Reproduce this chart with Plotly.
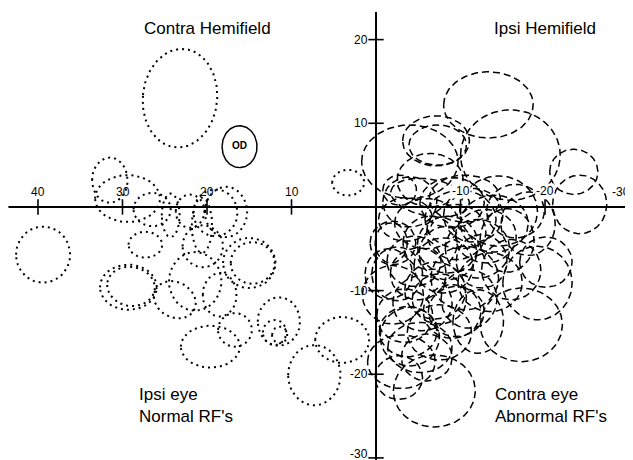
import numpy as np
import plotly.graph_objects as go

# ---- data (degrees of visual field) ----
# Ipsi eye, normal RFs (dotted): centre x, centre y, half-width, half-height, tilt (deg)
ipsi_cx = [23.2, 3.3, 31.5, 29.4, 27.3, 29.3, 29.0, 23.8, 19.6, 21.4, 20.5, 17.75, 19.0,
           15.0, 14.6, 24.3, 18.5, 16.7, 11.5, 12.0, 11.4, 4.0, 7.3, 39.4, 26.5, 22.0, 20.6]
ipsi_cy = [13.0, 2.9, 3.2, 1.0, -4.5, -9.6, -9.5, -11.1, -16.7, -8.9, -4.7, -0.6, -0.7,
           -6.7, -6.7, -1.0, -10.5, -14.7, -13.7, -15.0, -15.3, -15.9, -20.1, -5.7, -0.3, -0.5, -2.2]
ipsi_rx = [4.4, 1.9, 2.1, 3.85, 2.0, 3.37, 2.84, 2.6, 3.5, 3.1, 2.4, 2.5, 2.6,
           3.1, 2.6, 1.06, 2.0, 2.0, 2.5, 1.4, 0.9, 3.2, 3.1, 3.2, 2.2, 1.7, 1.2]
ipsi_ry = [5.9, 1.55, 2.7, 2.8, 1.55, 2.7, 2.33, 2.1, 2.5, 3.5, 2.5, 3.0, 2.8,
           3.0, 2.5, 2.6, 2.6, 2.0, 2.9, 1.5, 1.0, 2.75, 3.6, 3.35, 2.0, 2.0, 3.3]
ipsi_tilt = [5, 0, 0, 0, 0, 0, 10, 30, 0, 0, 0, 0, 0,
             0, 0, 0, 0, 0, 0, 0, 0, 0, 0, 0, 0, 0, 0]

# Contra eye, abnormal RFs (dashed)
contra_cx = [-13.3, -15.9, -23.4, -24.1, -7.1, -7.3, -4.0, -6.4, -2.8, -14.5, -11.5, -9.0,
             -4.0, -1.8, -2.0, -6.4, -6.4, -9.5, -12.0, -8.0, -10.5, -5.0, -13.5, -15.5,
             -18.0, -20.1, -19.1, -17.2, -2.7, -6.9, -3.8, -5.2, -12.1, -9.5, -3.4, -2.0,
             -3.0, -7.5, -10.0, -14.0, -1.5, -12.5, -8.5, -16.5, -6.0,
             -4.5, -7.0, -9.0, -5.5, -2.5, -11.0, -13.0, -8.5, -6.0, -16.0, -10.5, -3.5,
             -4.0, -7.5]
contra_cy = [12.2, 6.2, 4.2, 0.3, 7.9, 7.4, 5.4, 3.2, 2.0, -0.5, -1.0, 0.5,
             0.6, -4.3, -4.3, -4.3, 1.1, -3.0, -5.0, -7.0, -8.5, -8.0, -9.0, -4.0,
             -2.0, -6.6, -9.1, -14.1, -20.4, -22.0, -14.9, -16.8, -13.7, -12.5, -13.0, -10.5,
             -18.5, -11.0, -1.5, -2.0, -8.0, -6.5, -4.5, -0.5, -18.0,
             -6.5, -10.0, -12.5, -11.5, -8.0, -11.0, -3.5, -5.5, -2.0, -7.5, 1.0, -1.5,
             -15.5, -15.0]
contra_rx = [5.3, 5.9, 2.85, 3.2, 3.95, 3.4, 5.7, 3.9, 2.0, 4.6, 3.5, 3.8,
             3.2, 1.9, 2.7, 3.2, 4.7, 3.5, 3.8, 3.5, 4.0, 3.3, 3.8, 3.2,
             3.2, 3.1, 4.1, 4.85, 2.8, 4.85, 3.4, 3.8, 3.0, 3.3, 3.3, 3.6,
             4.0, 3.2, 4.2, 4.0, 2.8, 3.0, 3.6, 3.4, 3.0,
             3.2, 3.6, 3.4, 3.5, 3.0, 3.3, 3.6, 3.4, 3.8, 3.5, 4.2, 3.2,
             3.5, 3.8]
contra_ry = [3.95, 5.4, 2.7, 3.5, 3.0, 2.4, 4.4, 3.2, 1.8, 4.2, 3.2, 3.0,
             3.0, 2.4, 2.6, 3.2, 2.2, 3.3, 3.5, 3.3, 3.8, 3.1, 3.5, 3.8,
             3.8, 3.0, 4.4, 4.4, 2.6, 4.3, 3.0, 3.0, 3.8, 3.0, 3.2, 3.5,
             3.2, 3.0, 3.5, 3.4, 3.0, 3.2, 3.4, 3.2, 2.8,
             3.0, 3.4, 3.2, 3.3, 3.2, 3.5, 3.2, 3.2, 3.0, 3.6, 2.8, 2.6,
             3.5, 3.3]
contra_tilt = [0, 0, 0, 0, 0, 0, 0, 0, 0, 0, 0, 0,
               0, 0, 0, 0, 10, 0, 0, 0, 0, 0, 0, 0,
               0, 0, 0, 0, 0, 0, 0, 0, 0, 0, 0, 0,
               0, 0, 0, 0, 0, 0, 0, 0, 0,
               0, 0, 0, 0, 0, 0, 0, 0, 0, 0, 0, 0,
               0, 0]

# optic disc
od_cx, od_cy, od_rx, od_ry = 16.15, 7.2, 2.07, 2.5

x_ticks = [40, 30, 20, 10, -10, -20, -30]
x_tick_labels = ["40", "30", "20", "10", "-10", "-20", "-30"]
y_ticks = [20, 10, -10, -20, -30]
y_tick_labels = ["20", "10", "-10", "-20", "-30"]


def ellipse_path(cxs, cys, rxs, rys, tilts):
    xs, ys = [], []
    t = np.linspace(0, 2 * np.pi, 120)
    for cx, cy, rx, ry, a in zip(cxs, cys, rxs, rys, tilts):
        th = np.deg2rad(a)
        ex = cx + rx * np.cos(t) * np.cos(th) - ry * np.sin(t) * np.sin(th)
        ey = cy + rx * np.cos(t) * np.sin(th) + ry * np.sin(t) * np.cos(th)
        xs += list(ex) + [None]
        ys += list(ey) + [None]
    return xs, ys


fig = go.Figure()

lx, ly = ellipse_path(ipsi_cx, ipsi_cy, ipsi_rx, ipsi_ry, ipsi_tilt)
fig.add_trace(go.Scatter(x=lx, y=ly, mode="lines",
                         line=dict(color="black", width=2, dash="2px,4px"),
                         hoverinfo="skip"))

rx_, ry_ = ellipse_path(contra_cx, contra_cy, contra_rx, contra_ry, contra_tilt)
fig.add_trace(go.Scatter(x=rx_, y=ry_, mode="lines",
                         line=dict(color="black", width=1.5, dash="7px,4px"),
                         hoverinfo="skip"))

ox, oy = ellipse_path([od_cx], [od_cy], [od_rx], [od_ry], [0])
fig.add_trace(go.Scatter(x=ox, y=oy, mode="lines",
                         line=dict(color="black", width=1.5), hoverinfo="skip"))
fig.add_trace(go.Scatter(x=[od_cx], y=[od_cy], mode="text", text=["<b>OD</b>"],
                         textfont=dict(family="Liberation Sans", size=10, color="black")))

# axes lines crossing at origin
fig.add_trace(go.Scatter(x=[43.5, -30.3], y=[0, 0], mode="lines",
                         line=dict(color="black", width=2), hoverinfo="skip"))
fig.add_trace(go.Scatter(x=[0, 0], y=[23.3, -31.0], mode="lines",
                         line=dict(color="black", width=2), hoverinfo="skip"))

# tick marks
fig.add_trace(go.Scatter(x=x_ticks, y=[0] * len(x_ticks), mode="markers",
                         marker=dict(symbol="line-ns", size=11,
                                     line=dict(color="black", width=1.6)),
                         hoverinfo="skip"))
fig.add_trace(go.Scatter(x=[0] * len(y_ticks), y=y_ticks, mode="markers",
                         marker=dict(symbol="line-ew", size=11,
                                     line=dict(color="black", width=1.6)),
                         hoverinfo="skip"))

tick_font = dict(family="Liberation Sans", size=12, color="black")
anns = []
for v, lab in zip(x_ticks, x_tick_labels):
    if v == -30:
        anns.append(dict(x=-30.35, y=0, text=lab, showarrow=False, yanchor="bottom",
                         xanchor="right", yshift=6, font=tick_font))
    elif v < 0:
        anns.append(dict(x=v, y=0, text=lab, showarrow=False, yanchor="bottom",
                         xanchor="center", yshift=8, font=tick_font,
                         bgcolor="white", borderpad=0))
    else:
        anns.append(dict(x=v, y=0, text=lab, showarrow=False, yanchor="bottom",
                         xanchor="center", yshift=6, font=tick_font))
for v, lab in zip(y_ticks, y_tick_labels):
    anns.append(dict(x=0, y=v, text=lab, showarrow=False, xanchor="right",
                     yanchor="middle", xshift=-6, yshift=(4 if v == -30 else 0),
                     font=tick_font))

lab_font = dict(family="Liberation Sans", size=17, color="black")
anns += [
    dict(x=20.0, y=21.3, text="Contra Hemifield", showarrow=False, xanchor="center", font=lab_font),
    dict(x=-20.0, y=21.3, text="Ipsi Hemifield", showarrow=False, xanchor="center", font=lab_font),
    dict(x=28.3, y=-23.7, text="Ipsi eye<br>Normal RF's", showarrow=False, xanchor="left",
         align="left", font=lab_font),
    dict(x=-13.8, y=-23.7, text="Contra eye<br>Abnormal RF's", showarrow=False, xanchor="left",
         align="left", font=lab_font),
]

# The page body has an 8px margin, so the figure starts at (8, 8) in the window.
fig.update_layout(
    width=625, height=452, margin=dict(l=0, r=0, t=0, b=0),
    paper_bgcolor="white", plot_bgcolor="white", showlegend=False,
    xaxis=dict(range=[43.55, -30.41], visible=False, fixedrange=True),
    yaxis=dict(range=[-30.25, 23.78], visible=False, fixedrange=True),
    annotations=anns,
)

fig.write_html("out.html")
